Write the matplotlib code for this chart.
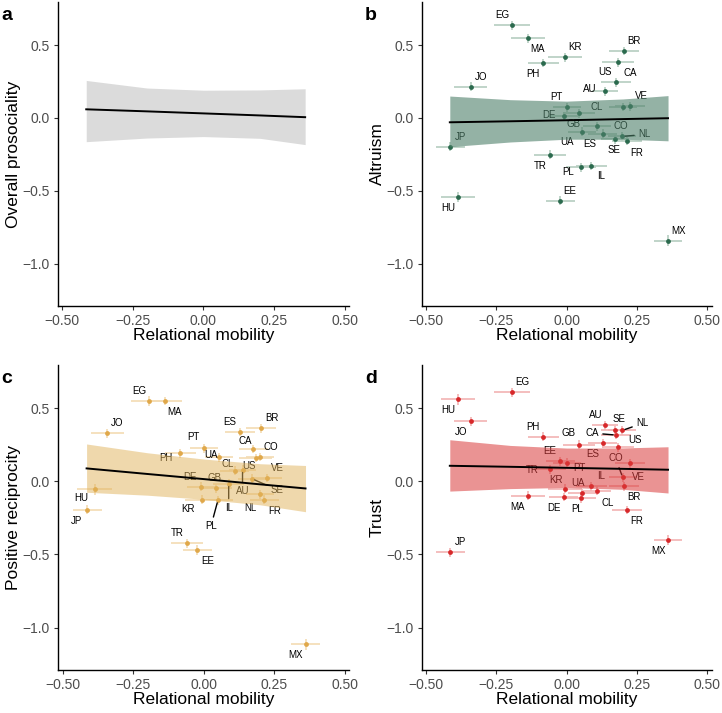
import numpy as np
import matplotlib
matplotlib.use("Agg")
import matplotlib.pyplot as plt
from matplotlib.ticker import FuncFormatter

plt.rcParams['font.family'] = ['Liberation Sans', 'DejaVu Sans']

# country-level estimates (relational mobility on x, prosociality measures on y)
countries = ["EG", "MA", "KR", "PH", "BR", "US", "CA", "AU", "JO", "PT", "DE", "GB", "CO", "VE",
             "CL", "UA", "ES", "SE", "NL", "FR", "JP", "TR", "PL", "IL", "HU", "EE", "MX"]
mobility = [-0.193, -0.138, -0.007, -0.083, 0.204, 0.183, 0.175, 0.137, -0.341, 0.000, -0.011, 0.044, 0.199, 0.225,
            0.109, 0.053, 0.128, 0.171, 0.198, 0.214, -0.413, -0.060, 0.050, 0.088, -0.386, -0.023, 0.360]
mobility_se = [0.064, 0.060, 0.060, 0.056, 0.053, 0.057, 0.052, 0.047, 0.059, 0.050, 0.050, 0.056, 0.050, 0.053,
               0.050, 0.050, 0.052, 0.050, 0.050, 0.052, 0.051, 0.056, 0.053, 0.056, 0.062, 0.052, 0.050]

altruism = [0.634, 0.545, 0.416, 0.377, 0.459, 0.382, 0.245, 0.182, 0.214, 0.073, 0.014, 0.032, 0.075, 0.080,
            -0.057, -0.095, -0.107, -0.148, -0.127, -0.159, -0.198, -0.252, -0.338, -0.329, -0.543, -0.568, -0.841]
reciprocity = [0.549, 0.549, -0.125, 0.190, 0.362, 0.159, 0.220, 0.079, 0.327, 0.225, -0.038, -0.047, 0.166, 0.022,
               0.072, 0.163, 0.337, 0.017, -0.088, -0.125, -0.195, -0.423, -0.129, -0.017, -0.056, -0.469, -1.115]
trust = [0.608, -0.099, -0.051, 0.305, -0.035, 0.232, 0.316, 0.382, 0.410, 0.127, -0.108, 0.250, 0.026, 0.124,
         -0.065, -0.081, 0.259, 0.348, 0.348, -0.197, -0.485, 0.083, -0.117, -0.035, 0.560, 0.136, -0.401]
outcome_se = [0.032, 0.030, 0.030, 0.030, 0.030, 0.030, 0.030, 0.030, 0.030, 0.030, 0.030, 0.030, 0.030, 0.030,
              0.030, 0.030, 0.030, 0.030, 0.030, 0.030, 0.032, 0.030, 0.030, 0.030, 0.036, 0.032, 0.037]

# fitted regression line and 95% band, read at a few x positions
fit_x = [-0.415, -0.2, 0.0, 0.2, 0.36]
overall_fit = [0.059, 0.045, 0.031, 0.017, 0.005]
overall_hi = [0.257, 0.205, 0.19, 0.192, 0.200]
overall_lo = [-0.163, -0.138, -0.128, -0.140, -0.183]
altruism_fit = [-0.030, -0.023, -0.016, -0.008, -0.002]
altruism_hi = [0.150, 0.125, 0.115, 0.130, 0.153]
altruism_lo = [-0.197, -0.165, -0.146, -0.146, -0.157]
reciprocity_fit = [0.088, 0.050, 0.015, -0.021, -0.049]
reciprocity_hi = [0.255, 0.195, 0.152, 0.120, 0.108]
reciprocity_lo = [-0.075, -0.095, -0.123, -0.161, -0.208]
trust_fit = [0.106, 0.099, 0.092, 0.085, 0.079]
trust_hi = [0.284, 0.245, 0.227, 0.228, 0.236]
trust_lo = [-0.067, -0.050, -0.042, -0.055, -0.080]

# label offsets in pixels (dx, dy) -- repel-style placement copied by eye
b_offsets = {"EG": (-10, 10), "MA": (10, -11), "KR": (10, 10), "PH": (-10, -11), "BR": (10, 10), "US": (-13, -10),
             "CA": (14, 9), "AU": (-16, 2), "JO": (10, 10), "PT": (-10, 10), "DE": (-15, 1), "GB": (-6, -11),
             "CO": (-2, -19), "VE": (11, 10), "CL": (-1, 19), "UA": (-15, -10), "ES": (-13, -10), "SE": (-1, -11),
             "NL": (22, 2), "FR": (10, -12), "JP": (10, 10), "TR": (-10, -11), "PL": (-13, -5), "IL": (10, -10),
             "HU": (-10, -11), "EE": (10, 10), "MX": (10, 10)}
c_offsets = {"EG": (-10, 10), "MA": (10, -11), "JO": (10, 10), "ES": (-10, 10), "BR": (10, 10), "PT": (-10, 11),
             "PH": (-14, -5), "UA": (-8, 2), "CA": (-8, 8), "CO": (11, 10), "US": (-7, -8), "CL": (-7, 7),
             "AU": (0, -21), "VE": (10, 10), "SE": (25, -11), "DE": (-11, 10), "GB": (-2, 10), "IL": (0, -24),
             "HU": (-14, -9), "NL": (-9, -14), "FR": (10, -11), "KR": (-14, -9), "PL": (-7, -26), "JP": (-11, -11),
             "TR": (-10, 10), "EE": (10, -11), "MX": (-10, -11)}
d_offsets = {"HU": (-10, -11), "EG": (10, 10), "JO": (-10, -11), "PH": (-10, 10), "AU": (-10, 10), "SE": (4, 11),
             "NL": (20, 7), "CA": (-24, 2), "US": (17, 7), "GB": (-11, 12), "ES": (-10, -11), "EE": (-10, 10),
             "PT": (13, -5), "TR": (-18, -1), "VE": (8, -14), "CO": (-7, 19), "IL": (10, 10), "BR": (10, -11),
             "KR": (-9, 9), "UA": (-4, 10), "CL": (10, -12), "MA": (-10, -11), "DE": (-10, -11), "PL": (-4, -11),
             "FR": (10, -11), "JP": (10, 10), "MX": (-10, -11)}
b_leaders = ["NL"]
c_leaders = ["AU", "SE", "IL", "PL"]
d_leaders = ["NL", "CA", "CO"]


def fmt2(v, pos):
    return ("%.2f" % v).replace("-", "\u2212")


def fmt1(v, pos):
    return ("%.1f" % v).replace("-", "\u2212")


def style_axes(ax, ylabel, letter):
    ax.set_xlim(-0.515, 0.515)
    ax.set_ylim(-1.29, 0.795)
    ax.set_xticks([-0.5, -0.25, 0, 0.25, 0.5])
    ax.set_yticks([-1.0, -0.5, 0.0, 0.5])
    ax.xaxis.set_major_formatter(FuncFormatter(fmt2))
    ax.yaxis.set_major_formatter(FuncFormatter(fmt1))
    ax.spines['top'].set_visible(False)
    ax.spines['right'].set_visible(False)
    for s in ['left', 'bottom']:
        ax.spines[s].set_linewidth(1.0)
    ax.tick_params(length=3, width=0.8, color='#333333', labelcolor='#4d4d4d', labelsize=10, pad=3)
    ax.set_xlabel('Relational mobility', fontsize=12.5, labelpad=0)
    ax.set_ylabel(ylabel, fontsize=12.5, labelpad=1)
    ax.text(-0.195, 0.985, letter, transform=ax.transAxes, fontsize=14, fontweight='bold', va='top')


def draw_panel(ax, yvals, fit, hi, lo, pt_color, bar_color, band_color, band_alpha, offsets, leaders):
    ax.errorbar(mobility, yvals, xerr=mobility_se, yerr=outcome_se, fmt='none', ecolor=bar_color,
                elinewidth=1.2, capsize=0, zorder=1)
    ax.scatter(mobility, yvals, s=12, color=pt_color, zorder=2, linewidths=0)
    for i, c in enumerate(countries):
        dx, dy = offsets[c]
        if c in leaders:
            ax.annotate(c, (mobility[i], yvals[i]), xytext=(dx, dy), textcoords='offset pixels',
                        ha='center', va='center', fontsize=7, zorder=3,
                        arrowprops=dict(arrowstyle='-', color='black', lw=1.0, shrinkA=1, shrinkB=2))
        else:
            ax.annotate(c, (mobility[i], yvals[i]), xytext=(dx, dy), textcoords='offset pixels',
                        ha='center', va='center', fontsize=7, zorder=3)
    ax.fill_between(fit_x, lo, hi, color=band_color, alpha=band_alpha, linewidth=0, zorder=4)
    ax.plot(fit_x, fit, color='black', lw=1.4, zorder=5)


fig = plt.figure(figsize=(7.22, 7.13), dpi=100)
ax_a = fig.add_axes([0.0803, 0.5708, 0.403, 0.4264])
ax_b = fig.add_axes([0.584, 0.5708, 0.4017, 0.4264])
ax_c = fig.add_axes([0.0808, 0.0603, 0.403, 0.4278])
ax_d = fig.add_axes([0.584, 0.0603, 0.4017, 0.4278])

# a: overall prosociality, only the fit
ax_a.fill_between(fit_x, overall_lo, overall_hi, color='#999999', alpha=0.35, linewidth=0)
ax_a.plot(fit_x, overall_fit, color='black', lw=1.4)
style_axes(ax_a, 'Overall prosociality', 'a')

draw_panel(ax_b, altruism, altruism_fit, altruism_hi, altruism_lo,
           '#2b6a4e', '#b5cdc0', '#4d7f69', 0.6, b_offsets, b_leaders)
style_axes(ax_b, 'Altruism', 'b')

draw_panel(ax_c, reciprocity, reciprocity_fit, reciprocity_hi, reciprocity_lo,
           '#e0a84a', '#f3dcb3', '#e0b25a', 0.5, c_offsets, c_leaders)
style_axes(ax_c, 'Positive reciprocity', 'c')

draw_panel(ax_d, trust, trust_fit, trust_hi, trust_lo,
           '#d7282a', '#f2b3b3', '#d93a3a', 0.55, d_offsets, d_leaders)
style_axes(ax_d, 'Trust', 'd')

plt.savefig('out.png', dpi=100)
